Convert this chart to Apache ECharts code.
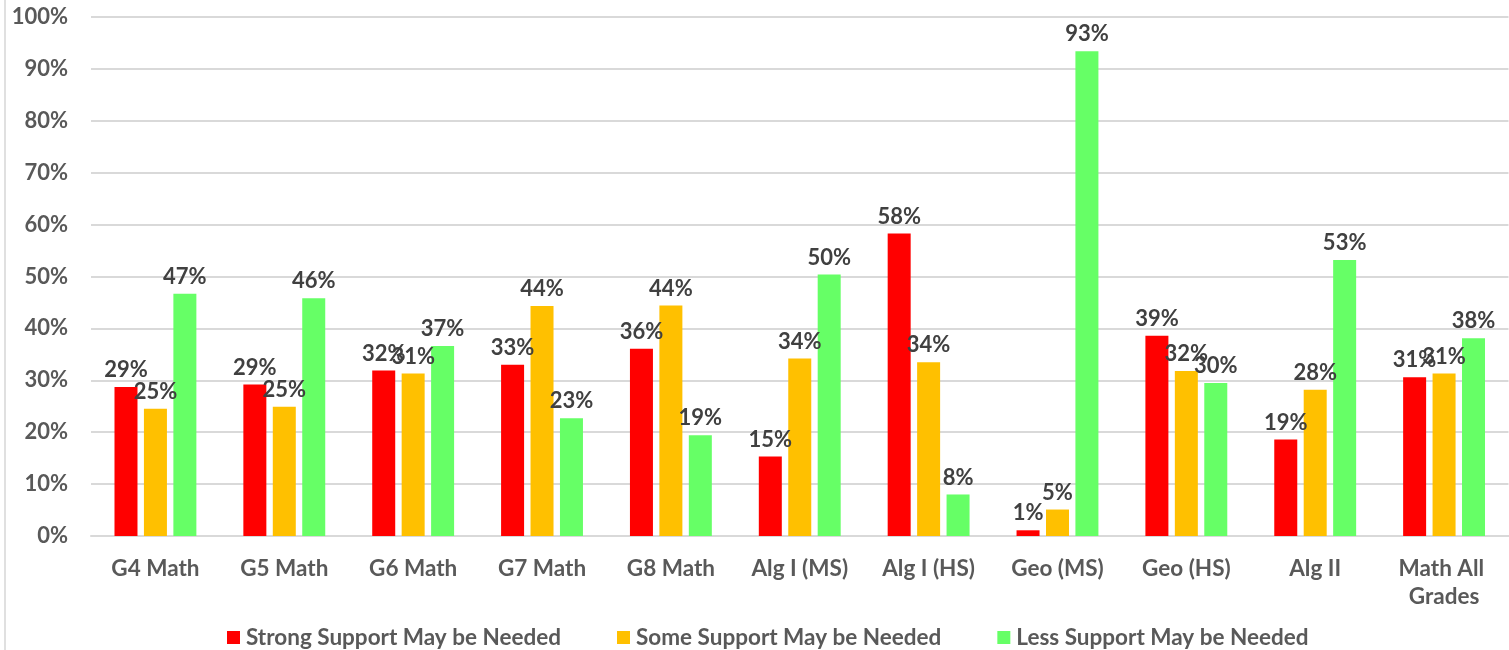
<!DOCTYPE html>
<html>
<head>
<meta charset="utf-8">
<style>
html,body{margin:0;padding:0;background:#fff;}
#c{width:1509px;height:650px;}
</style>
<script src="https://cdn.jsdelivr.net/npm/echarts@6/dist/echarts.min.js"></script>
</head>
<body>
<div id="c"></div>
<script>
const categories = ['G4 Math','G5 Math','G6 Math','G7 Math','G8 Math','Alg I (MS)','Alg I (HS)','Geo (MS)','Geo (HS)','Alg II','Math All Grades'];
const seriesNames = ['Strong Support May be Needed','Some Support May be Needed','Less Support May be Needed'];
const strongSupport = [28.7, 29.2, 31.9, 33.0, 36.1, 15.3, 58.3, 1.1, 38.6, 18.6, 30.6];
const someSupport   = [24.5, 24.9, 31.3, 44.3, 44.4, 34.2, 33.5, 5.1, 31.8, 28.2, 31.3];
const lessSupport   = [46.7, 45.8, 36.6, 22.7, 19.4, 50.4, 8.0, 93.4, 29.5, 53.2, 38.1];
const yTicks = [0,10,20,30,40,50,60,70,80,90,100];
const colors = ['#FF0000','#FFC000','#66FF66'];

const FONT = 'Lato';
const chart = echarts.init(document.getElementById('c'), null, {renderer:'canvas'});
function mk(name, data, color){
  return {
    name, type:'bar', data,
    barWidth: 23, barGap: '28%',
    itemStyle:{color},
    label:{show:true, position:'top', distance:6,
      formatter: p => Math.round(p.value)+'%',
      fontFamily:FONT, fontWeight:'bold', fontSize:22, color:'#404040'}
  };
}
chart.setOption({
  animation:false,
  backgroundColor:'#fff',
  textStyle:{fontFamily:FONT},
  grid:{left:91, top:17, width:1430, height:519, containLabel:false},
  legend:{
    left:227, top:626, padding:0, itemWidth:13, itemHeight:13, itemGap:56,
    icon:'rect',
    textStyle:{fontFamily:FONT, fontWeight:'bold', fontSize:22.5, color:'#595959', padding:[0,0,0,1]},
    data: seriesNames
  },
  xAxis:{
    type:'category', data:categories,
    axisLine:{show:true, lineStyle:{color:'#D9D9D9', width:2}},
    axisTick:{show:false},
    axisLabel:{fontFamily:FONT, fontWeight:'bold', fontSize:22.5, color:'#595959', margin:19,
      width:125, overflow:'break', lineHeight:28, interval:0}
  },
  yAxis:{
    type:'value', min:yTicks[0], max:yTicks[yTicks.length-1], interval:10,
    axisLine:{show:false}, axisTick:{show:false},
    splitLine:{lineStyle:{color:'#D9D9D9', width:2}},
    axisLabel:{fontFamily:FONT, fontWeight:'bold', fontSize:22, color:'#595959', margin:23,
      formatter: v => v+'%'}
  },
  graphic:[{type:'line', shape:{x1:5,y1:0,x2:5,y2:650}, style:{stroke:'#E0E0E0', lineWidth:2}}],
  series:[mk(seriesNames[0], strongSupport, colors[0]), mk(seriesNames[1], someSupport, colors[1]), mk(seriesNames[2], lessSupport, colors[2])]
});
</script>
</body>
</html>
